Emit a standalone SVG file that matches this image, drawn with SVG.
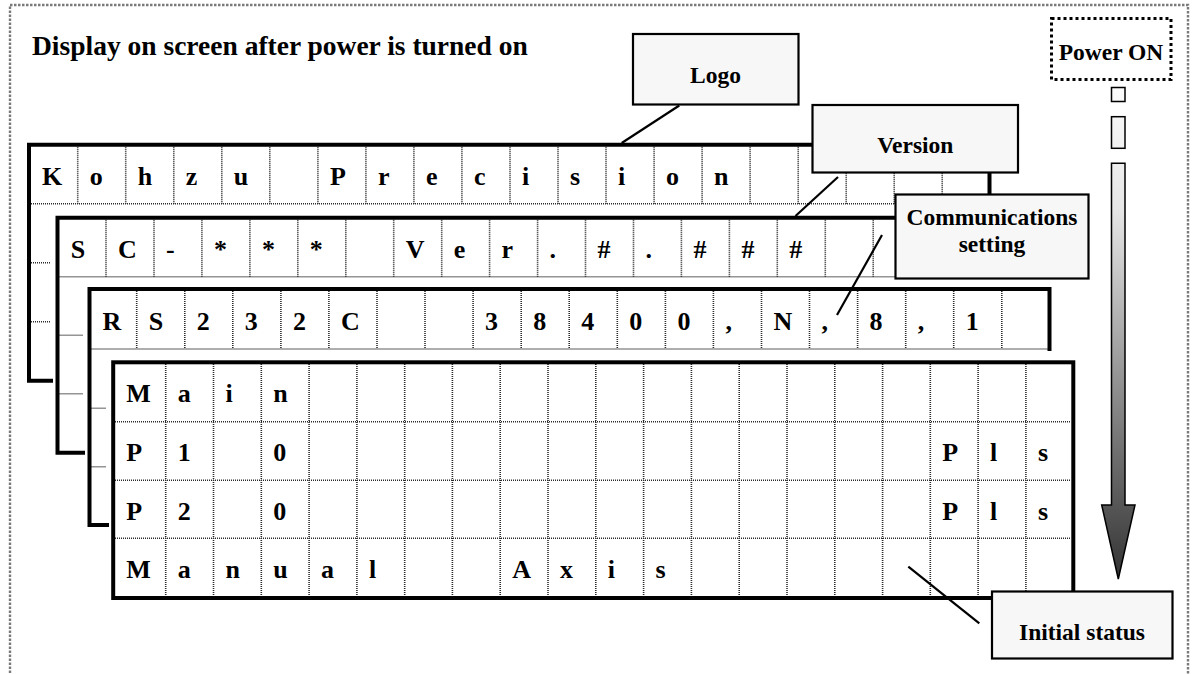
<svg xmlns="http://www.w3.org/2000/svg" width="1192" height="674" viewBox="0 0 1192 674">
  <style>
    .frame { fill: none; stroke: #7a7a7a; stroke-width: 2.4; stroke-dasharray: 2.5 1.5; }
    .thick { fill: none; stroke: #000; stroke-width: 4; stroke-linejoin: miter; stroke-linecap: square; }
    .grid { fill: none; stroke: #2a2a2a; stroke-width: 1.6; stroke-dasharray: 1 1; }
    .ch { font-family: "Liberation Serif", "Times New Roman", "DejaVu Serif", serif; font-weight: bold; font-size: 26px; fill: #000; }
    .title { font-family: "Liberation Serif", "Times New Roman", "DejaVu Serif", serif; font-weight: bold; font-size: 27.5px; fill: #000; }
    .box { fill: #f7f7f7; stroke: #000; stroke-width: 2.2; }
    .lbl { font-family: "Liberation Serif", "Times New Roman", "DejaVu Serif", serif; font-weight: bold; font-size: 23.5px; fill: #000; text-anchor: middle; }
    .lead { stroke: #000; stroke-width: 2.2; fill: none; }
  </style>
  <defs>
    <linearGradient id="flow" gradientUnits="userSpaceOnUse" x1="0" y1="87" x2="0" y2="579">
      <stop offset="0" stop-color="#fbfbfb"/>
      <stop offset="0.25" stop-color="#e6e6e6"/>
      <stop offset="0.75" stop-color="#6e6e6e"/>
      <stop offset="1" stop-color="#333333"/>
    </linearGradient>
  </defs>

  <rect width="1192" height="674" fill="#fff"/>
  <rect class="frame" x="10" y="5" width="1178" height="690"/>

  <text class="title" x="32" y="55">Display on screen after power is turned on</text>

  <!-- LCD page 1: logo -->
  <g id="panel-logo">
    <path class="grid" d="M31 203.7H988 M31 262.7H51 M31 321.7H51"/>
    <path class="grid" d="M77.7 146.7V203.7 M125.7 146.7V203.7 M173.8 146.7V203.7 M221.8 146.7V203.7 M269.8 146.7V203.7 M317.9 146.7V203.7 M365.9 146.7V203.7 M413.9 146.7V203.7 M461.9 146.7V203.7 M510 146.7V203.7 M558 146.7V203.7 M606 146.7V203.7 M654.1 146.7V203.7 M702.1 146.7V203.7 M750.1 146.7V203.7 M798.2 146.7V203.7 M846.2 146.7V203.7 M894.2 146.7V203.7 M942.2 146.7V203.7"/>
    <path class="thick" d="M51 380.7H29V144.7H989.5V203.7"/>
    <text class="ch" x="42 89.7 137.7 185.8 233.8 329.9 377.9 425.9 473.9 522 570 618 666.1 714.1" y="185">KohzuPrecision</text>
  </g>

  <!-- LCD page 2: version -->
  <g id="panel-version">
    <path class="grid" d="M59.5 276.7H1016 M59.5 335.3H83 M59.5 393.7H83"/>
    <path class="grid" d="M106 219.7V276.7 M154 219.7V276.7 M201.9 219.7V276.7 M249.9 219.7V276.7 M297.8 219.7V276.7 M345.8 219.7V276.7 M393.7 219.7V276.7 M441.7 219.7V276.7 M489.6 219.7V276.7 M537.6 219.7V276.7 M585.5 219.7V276.7 M633.5 219.7V276.7 M681.4 219.7V276.7 M729.4 219.7V276.7 M777.3 219.7V276.7 M825.3 219.7V276.7 M873.2 219.7V276.7 M921.2 219.7V276.7 M969.1 219.7V276.7"/>
    <path class="thick" d="M83 452.7H57.5V217.7H1017.5V276.7"/>
    <text class="ch" x="70.8 118 166 213.9 261.9 309.8 405.7 453.7 501.6 549.6 597.5 645.5 693.4 741.4 789.3" y="258.3">SC-***Ver.#.###</text>
  </g>

  <!-- LCD page 3: communications -->
  <g id="panel-comm">
    <path class="grid" d="M91.5 349H1048 M91.5 408.3H106 M91.5 466.7H106"/>
    <path class="grid" d="M136.7 291V349 M184.8 291V349 M232.8 291V349 M280.9 291V349 M328.9 291V349 M377 291V349 M425 291V349 M473.1 291V349 M521.2 291V349 M569.2 291V349 M617.3 291V349 M665.4 291V349 M713.4 291V349 M761.5 291V349 M809.5 291V349 M857.6 291V349 M905.7 291V349 M953.7 291V349 M1001.8 291V349"/>
    <path class="thick" d="M107 525H89.5V289H1049.5V349"/>
    <text class="ch" x="102.5 148.7 196.8 244.8 292.9 340.9 485.1 533.2 581.2 629.3 677.4 725.4 773.5 821.5 869.6 917.7 965.7" y="330">RS232C38400,N,8,1</text>
  </g>

  <!-- LCD page 4: initial status -->
  <g id="panel-status">
    <rect x="113.2" y="362.3" width="960.1" height="235.7" fill="#fff"/>
    <path class="grid" d="M115 421.7H1071 M115 480.3H1071 M115 538.3H1071"/>
    <path class="grid" d="M165.7 364V596 M213.5 364V596 M261.3 364V596 M309.1 364V596 M356.9 364V596 M404.7 364V596 M452.4 364V596 M500.2 364V596 M548 364V596 M595.8 364V596 M643.6 364V596 M691.4 364V596 M739.2 364V596 M787 364V596 M834.8 364V596 M882.6 364V596 M930.3 364V596 M978.1 364V596 M1025.9 364V596"/>
    <rect class="thick" x="113.2" y="362.3" width="960.1" height="235.7"/>
    <text class="ch" x="126.2 177.7 225.5 273.3" y="402">Main</text>
    <text class="ch" x="126.2 177.7 273.3 942.3 990.1 1037.9" y="461">P10Pls</text>
    <text class="ch" x="126.2 177.7 273.3 942.3 990.1 1037.9" y="519.5">P20Pls</text>
    <text class="ch" x="126.2 177.7 225.5 273.3 321.1 368.9 512.2 560 607.8 655.6" y="577.5">ManualAxis</text>
  </g>

  <!-- callout leader lines -->
  <g id="connectors">
    <line class="lead" x1="679.3" y1="105.5" x2="621.7" y2="143"/>
    <line class="lead" x1="838" y1="177" x2="795.5" y2="216"/>
    <line class="lead" x1="882" y1="235" x2="837" y2="315"/>
    <line class="lead" x1="908.3" y1="566.7" x2="979.3" y2="623.3"/>
  </g>

  <g id="callout-logo">
    <rect class="box" x="633" y="34" width="165.5" height="70.5"/>
    <text class="lbl" x="715.5" y="82.5">Logo</text>
  </g>

  <g id="callout-version">
    <rect class="box" x="812.5" y="105" width="205.5" height="67.5"/>
    <text class="lbl" x="915.3" y="153">Version</text>
  </g>

  <g id="callout-comm">
    <rect class="box" x="895.5" y="194.5" width="193" height="84"/>
    <text class="lbl" x="992" y="225">Communications</text>
    <text class="lbl" x="992" y="252">setting</text>
  </g>

  <g id="callout-initial">
    <rect class="box" x="992" y="591.5" width="180.5" height="67"/>
    <text class="lbl" x="1082" y="640">Initial status</text>
  </g>

  <g id="power-on">
    <rect x="1051.5" y="18.5" width="119.5" height="61" fill="#fff" stroke="#000" stroke-width="3" stroke-dasharray="3 3"/>
    <text class="lbl" x="1111" y="60">Power ON</text>
  </g>

  <!-- downward flow arrow -->
  <g id="power-arrow" fill="url(#flow)" stroke="#000" stroke-width="1.5">
    <rect x="1111.5" y="87.5" width="13.5" height="14"/>
    <rect x="1111.5" y="116.7" width="13.5" height="31.6"/>
    <path d="M1111.5 163.3H1125V505H1135L1118.3 579L1101.7 505H1111.5Z" stroke-linejoin="miter"/>
  </g>
</svg>
